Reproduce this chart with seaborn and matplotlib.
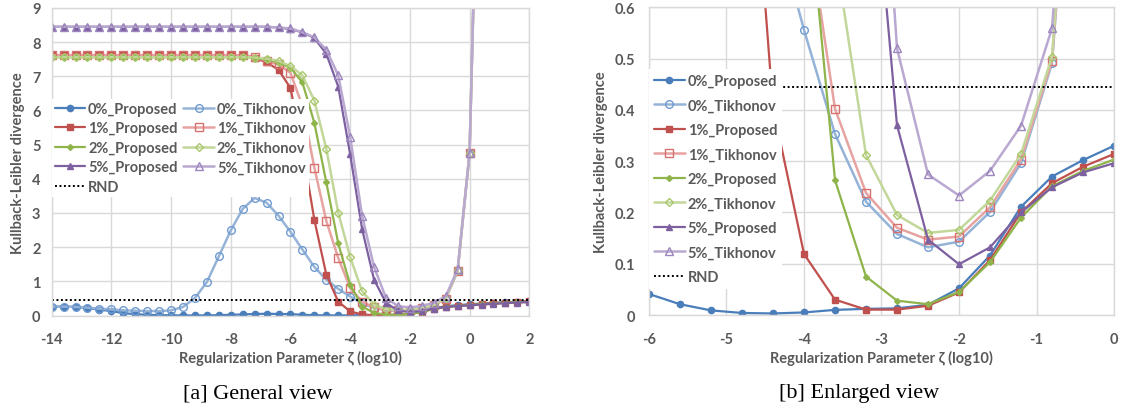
import matplotlib
matplotlib.use("Agg")
import matplotlib.pyplot as plt
import seaborn as sns

# ---------------- data ----------------
x_log10 = [-14.0, -13.6, -13.2, -12.8, -12.4, -12.0, -11.6, -11.2, -10.8, -10.4,
           -10.0, -9.6, -9.2, -8.8, -8.4, -8.0, -7.6, -7.2, -6.8, -6.4,
           -6.0, -5.6, -5.2, -4.8, -4.4, -4.0, -3.6, -3.2, -2.8, -2.4,
           -2.0, -1.6, -1.2, -0.8, -0.4, 0.0, 0.4, 0.8, 1.2, 1.6, 2.0]

p0_proposed = [0.26, 0.26, 0.25, 0.22, 0.17, 0.13, 0.07, 0.04, 0.02, 0.01,
               0.005, 0.003, 0.003, 0.005, 0.01, 0.02, 0.03, 0.045, 0.05, 0.045,
               0.041, 0.021, 0.009, 0.004, 0.003, 0.005, 0.010, 0.012, 0.013, 0.020,
               0.052, 0.116, 0.211, 0.270, 0.302, 0.330, 0.35, 0.37, 0.39, 0.40, 0.42]
p0_tikhonov = [0.26, 0.26, 0.25, 0.23, 0.20, 0.18, 0.15, 0.14, 0.13, 0.13,
               0.15, 0.25, 0.51, 0.98, 1.73, 2.49, 3.12, 3.44, 3.30, 2.92,
               2.45, 1.93, 1.42, 1.05, 0.78, 0.556, 0.353, 0.221, 0.158, 0.132,
               0.143, 0.201, 0.296, 0.491, 1.30, 4.75, 18.5, 60.0, 150.0, 320.0, 600.0]
p1_proposed = [7.62, 7.62, 7.62, 7.62, 7.62, 7.62, 7.62, 7.62, 7.62, 7.62,
               7.62, 7.62, 7.62, 7.62, 7.62, 7.62, 7.61, 7.54, 7.41, 7.19,
               6.66, 4.90, 2.80, 1.20, 0.406, 0.119, 0.030, 0.0105, 0.0105, 0.018,
               0.044, 0.107, 0.200, 0.257, 0.289, 0.314, 0.34, 0.36, 0.38, 0.40, 0.42]
p1_tikhonov = [7.62, 7.62, 7.62, 7.62, 7.62, 7.62, 7.62, 7.62, 7.62, 7.62,
               7.62, 7.62, 7.62, 7.62, 7.62, 7.62, 7.61, 7.58, 7.45, 7.35,
               7.10, 6.13, 4.33, 2.77, 1.68, 0.81, 0.402, 0.238, 0.170, 0.147,
               0.153, 0.210, 0.303, 0.496, 1.31, 4.75, 18.5, 60.0, 150.0, 320.0, 600.0]
p2_proposed = [7.56, 7.56, 7.56, 7.56, 7.56, 7.56, 7.56, 7.56, 7.56, 7.56,
               7.56, 7.56, 7.56, 7.56, 7.56, 7.56, 7.56, 7.54, 7.50, 7.40,
               7.25, 6.82, 5.64, 3.90, 2.11, 0.90, 0.263, 0.075, 0.028, 0.021,
               0.045, 0.103, 0.190, 0.251, 0.281, 0.303, 0.33, 0.35, 0.37, 0.39, 0.40]
p2_tikhonov = [7.56, 7.56, 7.56, 7.56, 7.56, 7.56, 7.56, 7.56, 7.56, 7.56,
               7.56, 7.56, 7.56, 7.56, 7.56, 7.56, 7.56, 7.55, 7.52, 7.45,
               7.30, 7.03, 6.29, 4.88, 3.01, 1.71, 0.71, 0.312, 0.195, 0.160,
               0.166, 0.223, 0.314, 0.504, 1.32, 4.75, 18.5, 60.0, 150.0, 320.0, 600.0]
p5_proposed = [8.45, 8.45, 8.45, 8.45, 8.45, 8.45, 8.45, 8.45, 8.45, 8.45,
               8.45, 8.45, 8.45, 8.45, 8.45, 8.45, 8.45, 8.45, 8.45, 8.43,
               8.38, 8.29, 8.12, 7.66, 6.70, 4.72, 2.53, 1.05, 0.370, 0.147,
               0.099, 0.132, 0.200, 0.249, 0.278, 0.296, 0.32, 0.34, 0.36, 0.38, 0.39]
p5_tikhonov = [8.45, 8.45, 8.45, 8.45, 8.45, 8.45, 8.45, 8.45, 8.45, 8.45,
               8.45, 8.45, 8.45, 8.45, 8.45, 8.45, 8.45, 8.45, 8.45, 8.43,
               8.40, 8.29, 8.14, 7.78, 7.03, 5.23, 2.92, 1.42, 0.520, 0.274,
               0.233, 0.281, 0.369, 0.559, 1.35, 4.75, 18.5, 60.0, 150.0, 320.0, 600.0]
rnd_level = 0.445

series_names = ["0%_Proposed", "0%_Tikhonov", "1%_Proposed", "1%_Tikhonov",
                "2%_Proposed", "2%_Tikhonov", "5%_Proposed", "5%_Tikhonov"]
rnd_name = "RND"

xticks_a = [-14, -12, -10, -8, -6, -4, -2, 0, 2]
yticks_a = [0, 1, 2, 3, 4, 5, 6, 7, 8, 9]
xticks_b = [-6, -5, -4, -3, -2, -1, 0]
yticks_b = [0, 0.1, 0.2, 0.3, 0.4, 0.5, 0.6]
yticklabels_b = ["0", "0.1", "0.2", "0.3", "0.4", "0.5", "0.6"]

x_label = "Regularization Parameter ζ (log10)"
y_label = "Kullback-Leibler divergence"
captions = ["[a] General view", "[b] Enlarged view"]

# ---------------- style ----------------
sns.set_theme(style="white")
plt.rcParams["font.family"] = ["Lato", "DejaVu Sans"]
plt.rcParams["font.weight"] = "bold"
TXT = "#595959"
GRID = "#d9d9d9"
FS = 10.5

values = [p0_proposed, p0_tikhonov, p1_proposed, p1_tikhonov,
          p2_proposed, p2_tikhonov, p5_proposed, p5_tikhonov]
styles = [
    dict(color="#4a7ebb", marker="o", markersize=4.5, markerfacecolor="#4a7ebb", markeredgecolor="#4a7ebb", linewidth=1.6),
    dict(color="#95b3d7", marker="o", markersize=5.5, markerfacecolor="none", markeredgecolor="#6f9bd1", linewidth=1.8),
    dict(color="#c0504d", marker="s", markersize=5.0, markerfacecolor="#c0504d", markeredgecolor="#c0504d", linewidth=1.6),
    dict(color="#e6a3a1", marker="s", markersize=5.5, markerfacecolor="none", markeredgecolor="#d6716e", linewidth=1.8),
    dict(color="#8eb44a", marker="D", markersize=3.0, markerfacecolor="#8eb44a", markeredgecolor="#8eb44a", linewidth=1.6),
    dict(color="#c3d79b", marker="D", markersize=4.3, markerfacecolor="none", markeredgecolor="#a9c86b", linewidth=1.8),
    dict(color="#7d60a0", marker="^", markersize=5.0, markerfacecolor="#7d60a0", markeredgecolor="#7d60a0", linewidth=1.6),
    dict(color="#b9a8d0", marker="^", markersize=6.0, markerfacecolor="none", markeredgecolor="#9c86bd", linewidth=1.8),
]

fig = plt.figure(figsize=(11.23, 4.14), dpi=100)
axA = fig.add_axes([0.046, 0.2355, 0.4253, 0.7428])
axB = fig.add_axes([0.5779, 0.2367, 0.4141, 0.7433])


def draw(ax):
    handles = []
    for name, vals, st in zip(series_names, values, styles):
        sns.lineplot(x=x_log10, y=vals, ax=ax, errorbar=None, markeredgewidth=1.0, **st)
        ln = ax.lines[-1]
        ln.set_label(name)
        handles.append(ln)
    rl = ax.axhline(rnd_level, color="black", linestyle=(0, (1, 1.3)), linewidth=1.4, label=rnd_name)
    return handles, rl


def style_axes(ax):
    ax.grid(True, color=GRID, linewidth=1)
    ax.set_axisbelow(True)
    for s in ax.spines.values():
        s.set_color(GRID)
        s.set_linewidth(1)
    ax.tick_params(length=0, labelsize=FS, labelcolor=TXT)
    for lab in ax.get_xticklabels() + ax.get_yticklabels():
        lab.set_fontweight("bold")
    ax.set_xlabel(x_label, fontsize=FS, color=TXT, fontweight="bold", labelpad=3)
    ax.set_ylabel(y_label, fontsize=FS, color=TXT, fontweight="bold", labelpad=5)


hA, rA = draw(axA)
axA.set_xlim(-14, 2)
axA.set_ylim(0, 9)
axA.set_xticks(xticks_a)
axA.set_xticklabels([str(v) for v in xticks_a])
axA.set_yticks(yticks_a)
axA.set_yticklabels([str(v) for v in yticks_a])
style_axes(axA)
axA.tick_params(axis="x", pad=12)
axA.tick_params(axis="y", pad=8)

hB, rB = draw(axB)
axB.set_xlim(-6, 0)
axB.set_ylim(0, 0.6)
axB.set_xticks(xticks_b)
axB.set_xticklabels([str(v) for v in xticks_b])
axB.set_yticks(yticks_b)
axB.set_yticklabels(yticklabels_b)
style_axes(axB)
axB.tick_params(axis="x", pad=12)
axB.tick_params(axis="y", pad=10)

legA_handles = [hA[0], hA[2], hA[4], hA[6], rA, hA[1], hA[3], hA[5], hA[7]]
legA = axA.legend(handles=legA_handles, labels=[h.get_label() for h in legA_handles],
                  ncol=2, loc="upper left", bbox_to_anchor=(0.0, 0.705), borderaxespad=0,
                  frameon=True, facecolor="white", edgecolor="none", framealpha=1,
                  fancybox=False, prop=dict(size=FS, weight="bold"),
                  labelspacing=0.38, handlelength=2.1, handletextpad=0.2,
                  columnspacing=0.4, borderpad=0.2)
for t in legA.get_texts():
    t.set_color(TXT)

legB_handles = hB + [rB]
legB = axB.legend(handles=legB_handles, labels=[h.get_label() for h in legB_handles],
                  ncol=1, loc="upper left", bbox_to_anchor=(0.0, 0.80), borderaxespad=0,
                  frameon=True, facecolor="white", edgecolor="none", framealpha=1,
                  fancybox=False, prop=dict(size=FS, weight="bold"),
                  labelspacing=0.72, handlelength=2.1, handletextpad=0.2, borderpad=0.35)
for t in legB.get_texts():
    t.set_color(TXT)

fig.text(258 / 1123, 1 - 394 / 414, captions[0], ha="center", va="center",
         fontsize=16, family="Liberation Serif", fontweight="normal", color="black")
fig.text(859 / 1123, 1 - 394 / 414, captions[1], ha="center", va="center",
         fontsize=16, family="Liberation Serif", fontweight="normal", color="black")

fig.savefig("out.png", dpi=100)
